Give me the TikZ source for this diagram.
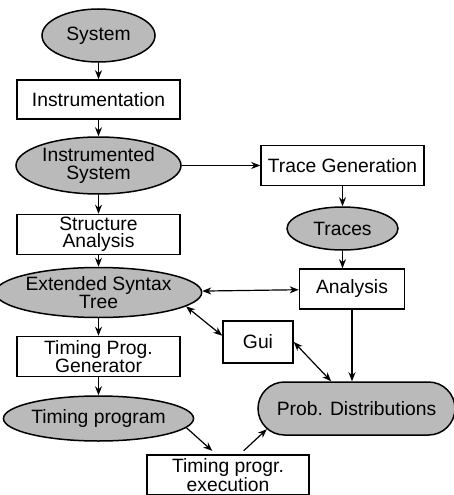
\documentclass[tikz,border=0pt]{standalone}
\usepackage{fontspec}
\setmainfont{Liberation Sans}
\usetikzlibrary{shapes.geometric,shapes.misc,arrows.meta}
\begin{document}
\begin{tikzpicture}[x=1pt, y=-1pt, node distance={64pt}, line width=1.2pt,
        >={Stealth[length=9pt,width=7pt]},
        font=\fontsize{19.3}{17.5}\selectfont,
        data/.style = {draw, ellipse, fill=black!27, line width=1.5pt, inner sep=0pt, align=center},
        proc/.style = {draw, rectangle, line width=1.6pt, inner sep=0pt, align=center}]
    \useasboundingbox (0,0) rectangle (454,495);

    \node[data, minimum width=113pt, minimum height=53pt] (1) at (98.5,35.5) {System};
    \node[proc, minimum width=163pt, minimum height=39pt] (2) [below of=1] {Instrumentation};
    \node[data, minimum width=165pt, minimum height=57pt] (3) [below of=2, node distance=66pt] {Instrumented\\System};
    \node[proc, minimum width=163pt, minimum height=40pt] (4) [below of=3, node distance=69pt] {Structure\\Analysis};
    \node[data, minimum width=174pt, minimum height=50pt] (5) [below of=4, node distance=58pt] {Extended Syntax\\Tree};
    \node[proc, minimum width=163pt, minimum height=40pt] (6) [below of=5] {Timing Prog.\\Generator};
    \node[data, minimum width=173pt, minimum height=45pt] (7) [below of=6, node distance=62pt] {Timing program};
    \node[proc, minimum width=162pt, minimum height=40pt] (8) at (228,475) {Timing progr.\\execution};

    \node[proc, minimum width=163pt, minimum height=40pt] (9) [right of=3, node distance=244pt] {Trace Generation};
    \node[data, minimum width=111pt, minimum height=43pt] (10) [below of=9, node distance=63pt] {Traces};
    \node[proc, minimum width=105pt, minimum height=40pt] (11) at (352,289) {Analysis};
    \node[proc, minimum width=70pt, minimum height=42pt] (12) at (258,342) {Gui};
    \node[data, rounded rectangle, minimum width=197pt, minimum height=53pt] (13) at (356.5,408.5) {Prob. Distributions};

    \draw[->] (1) -- (2);
    \draw[->] (2) -- (3);
    \draw[->] (3) -- (4);
    \draw[->] (4) -- (5);
    \draw[->] (5) -- (6);
    \draw[->] (6) -- (7);
    \draw[->] (3) -- (9);
    \draw[->] (9) -- (10);
    \draw[->] (10.south) -- (10.south |- 11.north);
    \draw[->] (11.south) -- (11.south |- 13.north);
    \draw[<->] (5) -- (11);
    \draw[<->] (5.-9) -- (12.170);
    \draw[<->] (12.east) -- (13.133);
    \draw[->, shorten >=5pt] (7.-6) -- (8.120);
    \draw[->, shorten <=5pt] (8.60) -- (13.193);
\end{tikzpicture}
\end{document}
